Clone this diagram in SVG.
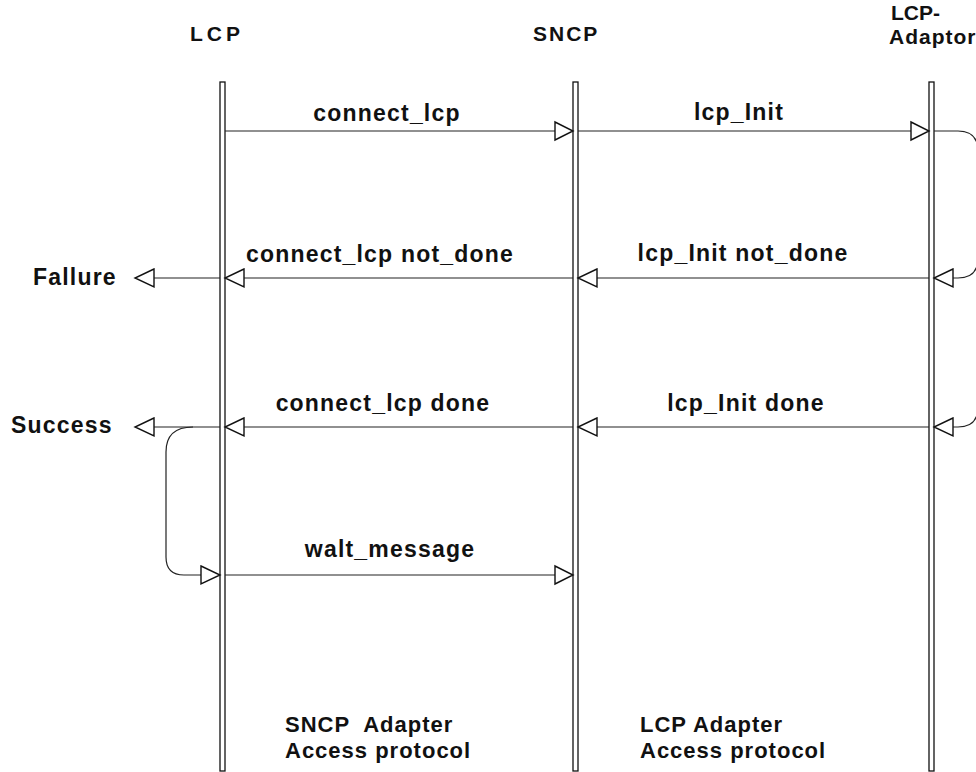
<svg xmlns="http://www.w3.org/2000/svg" width="976" height="772" viewBox="0 0 976 772">
<style>
text{font-family:"Liberation Sans",Arial,sans-serif;font-weight:bold;fill:#111}
.hd{font-size:21px}
.lb{font-size:23px;letter-spacing:1.2px;text-anchor:middle}
.bt{font-size:22px;letter-spacing:1px;white-space:pre}
.side{font-size:23px;letter-spacing:1.2px}
.life{fill:#fff;stroke:#111;stroke-width:1.3}
.ln{fill:none;stroke:#222;stroke-width:1.2}
.ah{fill:#fff;stroke:#111;stroke-width:1.4;stroke-linejoin:miter}
</style>
<rect width="976" height="772" fill="#fff"/>
<g id="lcp">
<text class="hd" x="190" y="41" style="letter-spacing:4px">LCP</text>
<rect class="life" x="220" y="82" width="5" height="689"/>
</g>
<g id="sncp">
<text class="hd" x="533" y="41" style="letter-spacing:2px">SNCP</text>
<rect class="life" x="573" y="82" width="5" height="689"/>
</g>
<g id="lcp-adaptor">
<text class="hd" x="891" y="20">LCP-</text>
<text class="hd" x="889" y="44" style="letter-spacing:1px">Adaptor</text>
<rect class="life" x="929" y="82" width="5" height="689"/>
</g>
<g id="failure">
<text class="side" x="33" y="285">Fallure</text>
</g>
<g id="success">
<text class="side" x="11" y="433">Success</text>
</g>
<g id="sncp-adapter-label">
<text class="bt" x="285" y="732" xml:space="preserve">SNCP  Adapter</text>
<text class="bt" x="285" y="758">Access protocol</text>
</g>
<g id="lcp-adapter-label">
<text class="bt" x="640" y="732">LCP Adapter</text>
<text class="bt" x="640" y="758">Access protocol</text>
</g>
<g id="connectors">
<line class="ln" x1="225" y1="131" x2="555" y2="131"/>
<polygon class="ah" points="555,122 573,131 555,140"/>
<text class="lb" x="387" y="121">connect_lcp</text>
<line class="ln" x1="578" y1="131" x2="911" y2="131"/>
<polygon class="ah" points="911,122 929,131 911,140"/>
<text class="lb" x="739" y="120">lcp_Init</text>
<path class="ln" d="M934,131 H958 Q978,131 978,151 V258 Q978,278 958,278 H953"/>
<path class="ln" d="M978,258 V407 Q978,427 958,427 H953"/>
<line class="ln" x1="929" y1="278" x2="597" y2="278"/>
<polygon class="ah" points="597,269 578,278 597,287"/>
<polygon class="ah" points="953,269 934,278 953,287"/>
<text class="lb" x="743" y="261">lcp_Init not_done</text>
<line class="ln" x1="573" y1="278" x2="244" y2="278"/>
<polygon class="ah" points="244,269 225,278 244,287"/>
<text class="lb" x="380" y="262">connect_lcp not_done</text>
<line class="ln" x1="220" y1="278" x2="154" y2="278"/>
<polygon class="ah" points="154,269 135,278 154,287"/>
<line class="ln" x1="929" y1="427" x2="597" y2="427"/>
<polygon class="ah" points="597,418 578,427 597,436"/>
<polygon class="ah" points="953,418 934,427 953,436"/>
<text class="lb" x="746" y="411">lcp_Init done</text>
<line class="ln" x1="573" y1="427" x2="244" y2="427"/>
<polygon class="ah" points="244,418 225,427 244,436"/>
<text class="lb" x="383" y="411">connect_lcp done</text>
<line class="ln" x1="220" y1="427" x2="154" y2="427"/>
<polygon class="ah" points="154,418 135,427 154,436"/>
<path class="ln" d="M193,427 Q166,427 166,452 V557 Q166,575 184,575 H201"/>
<polygon class="ah" points="201,566 220,575 201,584"/>
<line class="ln" x1="225" y1="575" x2="555" y2="575"/>
<polygon class="ah" points="555,566 573,575 555,584"/>
<text class="lb" x="390" y="557">walt_message</text>
</g>
</svg>
